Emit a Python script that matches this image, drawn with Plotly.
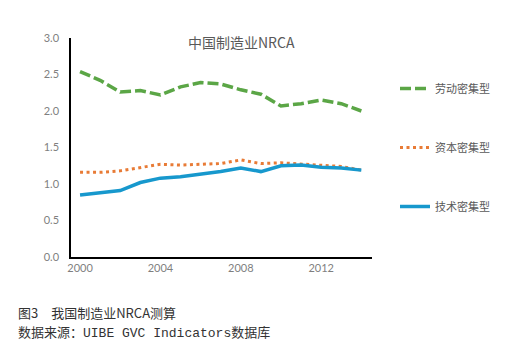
import plotly.graph_objects as go

years = list(range(2000, 2015))
labor = [2.54, 2.42, 2.26, 2.28, 2.22, 2.33, 2.39, 2.37, 2.29, 2.23, 2.07, 2.10, 2.15, 2.10, 2.00]
capital = [1.16, 1.16, 1.18, 1.22, 1.27, 1.26, 1.27, 1.28, 1.33, 1.28, 1.29, 1.27, 1.26, 1.24, 1.19]
tech = [0.85, 0.88, 0.91, 1.02, 1.08, 1.10, 1.13, 1.17, 1.22, 1.17, 1.25, 1.26, 1.23, 1.22, 1.19]
names = ["劳动密集型", "资本密集型", "技术密集型"]
x_ticks = [2000, 2004, 2008, 2012]
y_ticks = [0.0, 0.5, 1.0, 1.5, 2.0, 2.5, 3.0]

L, R, T, B = 71, 150, 38, 99
W, H = 522, 356
pw, ph = W - L - R, H - T - B


def px_x(x):
    return (x - L) / pw


def px_y(y):
    return (H - B - y) / ph


fig = go.Figure()
fig.add_trace(go.Scatter(x=years, y=labor, mode="lines", name=names[0], legendgroup="a",
                         line=dict(color="#5BA646", width=3.5, dash="11px,4px")))
fig.add_trace(go.Scatter(x=years, y=capital, mode="lines", name=names[1], legendgroup="b",
                         line=dict(color="#E87B36", width=3, dash="3px,3.5px")))
fig.add_trace(go.Scatter(x=years, y=tech, mode="lines", name=names[2], legendgroup="c",
                         line=dict(color="#1798CD", width=3.5)))

fig.update_layout(
    width=W, height=H,
    margin=dict(l=L, r=R, t=T, b=B),
    paper_bgcolor="white", plot_bgcolor="white",
    font=dict(family="Lato, Noto Sans CJK SC, sans-serif", color="#7f7f7f", size=11),
    showlegend=True,
    legend=dict(x=px_x(395), y=px_y(74), xanchor="left", yanchor="top",
                tracegroupgap=40, font=dict(size=11, color="#595959",
                family="Noto Sans CJK SC, sans-serif"),
                itemwidth=30, bgcolor="rgba(0,0,0,0)"),
    xaxis=dict(range=[1999.55, 2014.53], tickvals=x_ticks, ticktext=[str(t) for t in x_ticks],
               showgrid=False, zeroline=False, showline=True, linecolor="#000000", linewidth=1.5,
               ticks="", tickfont=dict(size=11, color="#7f7f7f"), fixedrange=True),
    yaxis=dict(range=[0, 3], tickvals=y_ticks, ticktext=[f"{v:.1f}" for v in y_ticks],
               showgrid=False, zeroline=False, showline=True, linecolor="#000000", linewidth=1.5,
               ticks="", ticklabelstandoff=8, tickfont=dict(size=11, color="#7f7f7f"), fixedrange=True),
    annotations=[
        dict(text="中国制造业NRCA", x=px_x(241), y=px_y(42), xref="paper", yref="paper", showarrow=False,
             yanchor="middle",
             font=dict(size=14, color="#595959", family="Noto Sans CJK SC, sans-serif")),
        dict(text="图3　我国制造业NRCA测算", x=px_x(16), y=px_y(312), xref="paper", yref="paper",
             showarrow=False, xanchor="left", yanchor="middle",
             font=dict(size=13, color="#333333", family="Noto Sans CJK SC, sans-serif")),
        dict(text="数据来源：UIBE GVC Indicators数据库", x=px_x(16), y=px_y(333), xref="paper", yref="paper",
             showarrow=False, xanchor="left", yanchor="middle",
             font=dict(size=13, color="#333333", family="Liberation Mono, Noto Sans CJK SC, monospace")),
    ],
)

fig.write_html("out.html", config={"displayModeBar": False},
               post_script="document.body.style.margin='0';")
